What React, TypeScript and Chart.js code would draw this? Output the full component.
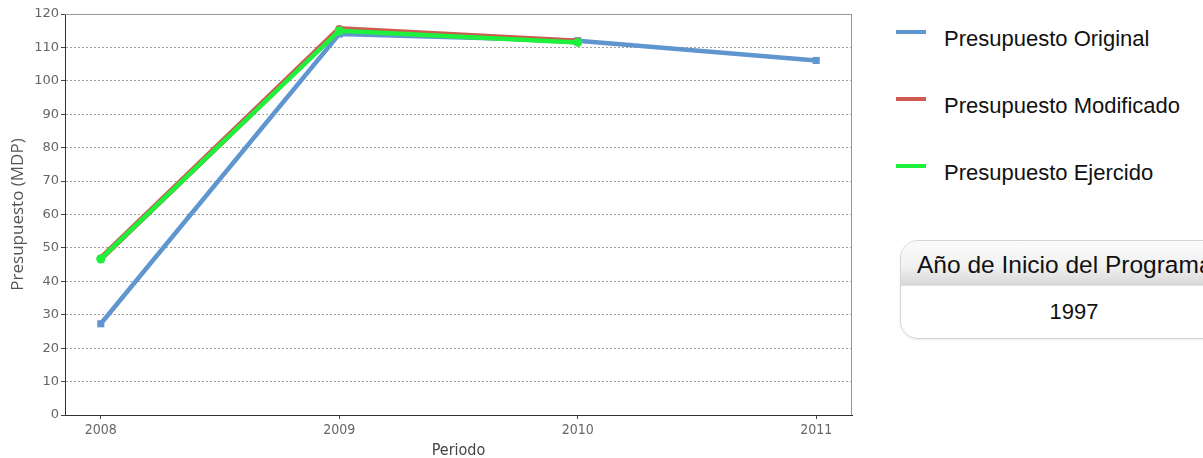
import React, { useEffect, useRef } from "react";
import { Chart, registerables } from "chart.js";

Chart.register(...registerables);

const years = [2008, 2009, 2010, 2011];
const original = [27.3, 114, 112, 106.1];
const modificado = [46.8, 115.5, 111.8];
const ejercido = [46.7, 115, 111.5];
const yTicks = [0, 10, 20, 30, 40, 50, 60, 70, 80, 90, 100, 110, 120];
const legendLabels = ["Presupuesto Original", "Presupuesto Modificado", "Presupuesto Ejercido"];
const legendColors = ["#6096cf", "#cd5b50", "#1cf23c"];
const infoTitle = "Año de Inicio del Programa";
const infoValue = "1997";

const frame = {
  id: "frame",
  afterDraw(chart: any) {
    const { ctx, chartArea } = chart;
    ctx.save();
    ctx.strokeStyle = "#999";
    ctx.lineWidth = 1;
    ctx.beginPath();
    ctx.moveTo(chartArea.left, chartArea.top + 0.5);
    ctx.lineTo(chartArea.right - 0.5, chartArea.top + 0.5);
    ctx.lineTo(chartArea.right - 0.5, chartArea.bottom);
    ctx.stroke();
    ctx.restore();
  },
};

function pts(vals: number[]) {
  return vals.map((v, i) => ({ x: years[i], y: v }));
}

export default function App() {
  const ref = useRef<HTMLCanvasElement | null>(null);
  useEffect(() => {
    if (!ref.current) return;
    const chart = new Chart(ref.current, {
      type: "line",
      data: {
        datasets: [
          {
            label: legendLabels[0],
            data: pts(original),
            borderColor: legendColors[0],
            backgroundColor: legendColors[0],
            borderWidth: 4.5,
            pointStyle: "rect",
            pointRadius: 5,
            pointBorderWidth: 0,
            order: 3,
          },
          {
            label: legendLabels[1],
            data: pts(modificado),
            borderColor: legendColors[1],
            backgroundColor: legendColors[1],
            borderWidth: 6,
            pointStyle: "circle",
            pointRadius: 4,
            pointBorderWidth: 0,
            order: 2,
          },
          {
            label: legendLabels[2],
            data: pts(ejercido),
            borderColor: legendColors[2],
            backgroundColor: legendColors[2],
            borderWidth: 4.5,
            pointStyle: "circle",
            pointRadius: 4.5,
            pointBorderWidth: 0,
            order: 1,
          },
        ],
      },
      options: {
        animation: false,
        responsive: false,
        devicePixelRatio: 1,
        layout: { padding: { top: 14, right: 18, left: 0, bottom: 0 } },
        plugins: { legend: { display: false }, tooltip: { enabled: false } },
        scales: {
          x: {
            type: "linear",
            min: 2007.85,
            max: 2011.15,
            afterBuildTicks: (s: any) => {
              s.ticks = years.map((v) => ({ value: v }));
            },
            afterFit: (s: any) => {
              s.height = 43;
            },
            grid: {
              drawOnChartArea: false,
              drawTicks: true,
              tickLength: 4,
              tickColor: "#444",
            },
            border: { color: "#333", width: 1 },
            ticks: {
              callback: (v: any) => String(v),
              color: "#666",
              font: { family: "'DejaVu Sans Condensed', 'DejaVu Sans'", size: 14 },
              padding: 3,
              maxRotation: 0,
            },
            title: {
              display: true,
              text: "Periodo",
              color: "#444",
              font: { family: "'DejaVu Sans Condensed', 'DejaVu Sans'", size: 16 },
              padding: { top: 0, bottom: -2 },
            },
          },
          y: {
            min: 0,
            max: 120,
            afterBuildTicks: (s: any) => {
              s.ticks = yTicks.map((v) => ({ value: v }));
            },
            afterFit: (s: any) => {
              s.width = 65;
            },
            grid: {
              color: "#a0a0a0",
              tickBorderDash: [],
              tickColor: "#444",
              tickLength: 4,
              drawTicks: true,
            },
            border: { color: "#333", width: 1, dash: [2, 2] },
            ticks: {
              color: "#666",
              font: { family: "'DejaVu Sans'", size: 13 },
              padding: 2,
            },
            title: {
              display: true,
              text: "Presupuesto (MDP)",
              color: "#555",
              font: { family: "'Open Sans'", size: 17 },
              padding: { top: 8, bottom: 0 },
            },
          },
        },
      } as any,
      plugins: [frame],
    });
    return () => chart.destroy();
  }, []);

  const legendY = [32, 99, 166];
  return (
    <div
      style={{
        position: "fixed",
        left: 0,
        top: 0,
        width: 1203,
        height: 458,
        overflow: "hidden",
        background: "#fff",
        fontFamily: "'Liberation Sans', Arial, sans-serif",
      }}
    >
      <canvas ref={ref} width={870} height={458} style={{ position: "absolute", left: 0, top: 0 }} />
      {legendLabels.map((l, i) => (
        <div key={l}>
          <div
            style={{
              position: "absolute",
              left: 896,
              top: legendY[i] - 2,
              width: 30,
              height: 4,
              background: legendColors[i],
            }}
          />
          <div
            style={{
              position: "absolute",
              left: 944,
              top: legendY[i] - 7,
              fontSize: 22,
              lineHeight: "28px",
              color: "#111",
              whiteSpace: "nowrap",
            }}
          >
            {l}
          </div>
        </div>
      ))}
      <div
        style={{
          position: "absolute",
          left: 900,
          top: 240,
          width: 346,
          height: 97,
          border: "1px solid #d4d4d4",
          borderRadius: 18,
          overflow: "hidden",
          boxShadow: "0 1px 2px rgba(0,0,0,0.08)",
        }}
      >
        <div
          style={{
            height: 44,
            background: "linear-gradient(#fafafa, #f2f2f2 55%, #d8d8d8)",
            borderBottom: "1px solid #e2e2e2",
            fontSize: 24.5,
            lineHeight: "48px",
            paddingLeft: 16,
            color: "#111",
            whiteSpace: "nowrap",
          }}
        >
          {infoTitle}
        </div>
        <div
          style={{
            textAlign: "center",
            fontSize: 22,
            lineHeight: "52px",
            color: "#111",
          }}
        >
          {infoValue}
        </div>
      </div>
    </div>
  );
}
